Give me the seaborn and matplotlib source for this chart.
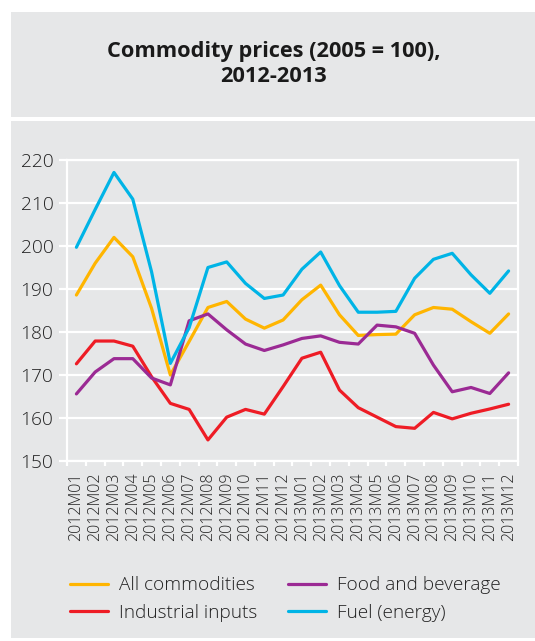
import numpy as np
import pandas as pd
import matplotlib
matplotlib.use("Agg")
import matplotlib.pyplot as plt
from matplotlib.patches import Rectangle
import seaborn as sns

# Monthly commodity price indices, 2005 = 100
months = ["2012M01", "2012M02", "2012M03", "2012M04", "2012M05", "2012M06",
          "2012M07", "2012M08", "2012M09", "2012M10", "2012M11", "2012M12",
          "2013M01", "2013M02", "2013M03", "2013M04", "2013M05", "2013M06",
          "2013M07", "2013M08", "2013M09", "2013M10", "2013M11", "2013M12"]

all_commodities = [188.6, 196.0, 202.0, 197.5, 185.5, 170.0, 177.8, 185.7,
                   187.1, 183.0, 180.9, 182.8, 187.5, 190.9, 184.0, 179.2,
                   179.4, 179.5, 184.0, 185.7, 185.3, 182.4, 179.7, 184.2]
industrial_inputs = [172.6, 177.9, 177.9, 176.7, 169.6, 163.4, 162.0, 154.9,
                     160.2, 162.0, 160.9, 167.3, 173.9, 175.3, 166.5, 162.4,
                     160.2, 158.0, 157.6, 161.3, 159.8, 161.1, 162.1, 163.2]
food_and_beverage = [165.6, 170.7, 173.8, 173.8, 169.3, 167.7, 182.6, 184.2,
                     180.5, 177.2, 175.7, 177.0, 178.5, 179.1, 177.6, 177.2,
                     181.6, 181.2, 179.7, 172.3, 166.1, 167.1, 165.7, 170.5]
fuel_energy = [199.7, 208.5, 217.1, 210.9, 194.0, 172.7, 181.0, 195.0,
               196.3, 191.3, 187.8, 188.6, 194.6, 198.6, 190.8, 184.6,
               184.6, 184.8, 192.5, 196.9, 198.3, 193.3, 189.0, 194.2]

series_names = ["All commodities", "Industrial inputs",
                "Food and beverage", "Fuel (energy)"]
series_values = [all_commodities, industrial_inputs, food_and_beverage, fuel_energy]
series_colors = ["#FFB500", "#EE1C25", "#9B2A94", "#00B4E6"]
y_ticks = [150, 160, 170, 180, 190, 200, 210, 220]

df = pd.DataFrame({
    "month": np.tile(np.arange(len(months)), len(series_names)),
    "value": np.concatenate(series_values),
    "series": np.repeat(series_names, len(months)),
})

sns.set_theme(style="white")
plt.rcParams["font.family"] = ["Open Sans", "DejaVu Sans"]

BG = "#E6E7E8"
fig = plt.figure(figsize=(5.35, 6.41), dpi=100)
fig.patch.set_facecolor("white")

# Title box and chart panel, kept behind the axes
fig.patches.append(Rectangle((11 / 535, 1 - 117 / 641), 1, 105 / 641,
                             transform=fig.transFigure, facecolor=BG,
                             edgecolor="none", zorder=-10))
fig.patches.append(Rectangle((11 / 535, 1 - 638 / 641), 1, 517 / 641,
                             transform=fig.transFigure, facecolor=BG,
                             edgecolor="none", zorder=-10))

fig.text(274 / 535, 1 - 64 / 641, "Commodity prices (2005 = 100),\n2012-2013",
         ha="center", va="center", fontsize=15.7, fontweight="bold",
         color="#1a1a1a", linespacing=1.3)

ax = fig.add_axes([67 / 535, 1 - 461 / 641, 451 / 535, 301 / 641])
ax.set_zorder(1)
ax.set_facecolor(BG)

sns.lineplot(data=df, x="month", y="value", hue="series",
             hue_order=series_names, palette=series_colors,
             linewidth=2.3, ax=ax, legend=False, sort=False)

ax.set_xlim(-0.5, len(months) - 0.5)
ax.set_ylim(150, 220)
ax.set_xlabel("")
ax.set_ylabel("")

# horizontal grid
for v in y_ticks:
    ax.axhline(v, color="white", linewidth=1.6, zorder=0.5)

ax.set_yticks(y_ticks)
ax.set_yticklabels([str(v) for v in y_ticks], fontsize=13.8,
                   fontweight="light", color="#222222")
ax.tick_params(axis="y", length=5.8, width=1.6, color="white", pad=4,
               direction="out", left=True)

ax.set_xticks(np.arange(len(months)))
ax.set_xticklabels(months, rotation=90, fontsize=11.5, fontweight="light",
                   color="#222222")
ax.set_xticks(np.arange(len(months) + 1) - 0.5, minor=True)
ax.tick_params(axis="x", which="major", length=0, pad=8)
ax.tick_params(axis="x", which="minor", length=3.6, width=1.6, color="white",
               direction="out", bottom=True)

for side in ["left", "right", "bottom", "top"]:
    ax.spines[side].set_visible(True)
    ax.spines[side].set_color("white")
    ax.spines[side].set_linewidth(1.6)

handles = [l for l in ax.get_lines() if l.get_label() in series_names]
if len(handles) != len(series_names):
    handles = ax.get_lines()[:len(series_names)]
leg = fig.legend(handles, series_names, ncol=2, loc="center left",
                 bbox_to_anchor=(53 / 535, 1 - 599 / 641), frameon=False,
                 fontsize=13.7, handlelength=2.0, handletextpad=0.58,
                 columnspacing=1.6, labelspacing=0.5)
for t in leg.get_texts():
    t.set_fontweight("light")
    t.set_color("#222222")

fig.savefig("out.png", dpi=100, facecolor=fig.get_facecolor())
